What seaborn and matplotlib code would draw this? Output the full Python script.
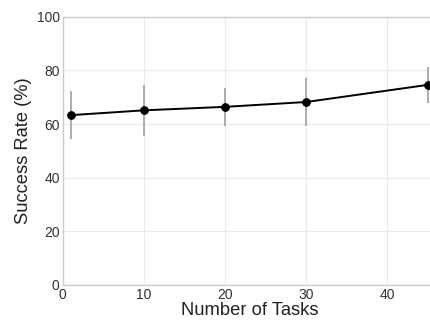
import matplotlib
matplotlib.use("Agg")
import matplotlib.pyplot as plt
import seaborn as sns
import pandas as pd

num_tasks = [1, 10, 20, 30, 45]
success_rate = [63.3, 65.1, 66.4, 68.2, 74.6]
error = [9.0, 9.4, 7.0, 9.0, 6.7]

sns.set_theme(style="whitegrid")
plt.rcParams['font.family'] = ['Liberation Sans', 'DejaVu Sans']

df = pd.DataFrame({"Number of Tasks": num_tasks, "Success Rate (%)": success_rate})

W, H = 430, 323
left_px, bottom_px, top_px = 62.5, 285, 16.7
px_per_unit = 8.12
xmax = 46
fig = plt.figure(figsize=(4.3, 3.23), dpi=100)
ax = fig.add_axes([left_px / W, 1 - bottom_px / H, xmax * px_per_unit / W, (bottom_px - top_px) / H])
ax.errorbar(num_tasks, success_rate, yerr=error, fmt="none", ecolor="#a6a6a6", elinewidth=1.3, zorder=2)
sns.lineplot(data=df, x="Number of Tasks", y="Success Rate (%)", ax=ax, color="black",
             marker="o", markersize=5.5, linewidth=1.4, markeredgecolor="black", zorder=3)
ax.set_xlim(0, xmax)
ax.set_ylim(0, 100)
ax.set_xticks([0, 10, 20, 30, 40])
ax.set_yticks([0, 20, 40, 60, 80, 100])
ax.grid(color="#ebebeb", linewidth=0.8)
for s in ax.spines.values():
    s.set_color("#cccccc")
    s.set_linewidth(1.0)
ax.tick_params(labelsize=10, colors="#333333", length=0, pad=2)
ax.set_xlabel("Number of Tasks", fontsize=13.2, color="#222222", labelpad=0)
ax.set_ylabel("Success Rate (%)", fontsize=13.2, color="#222222", labelpad=3)
fig.savefig("out.png", dpi=100)
